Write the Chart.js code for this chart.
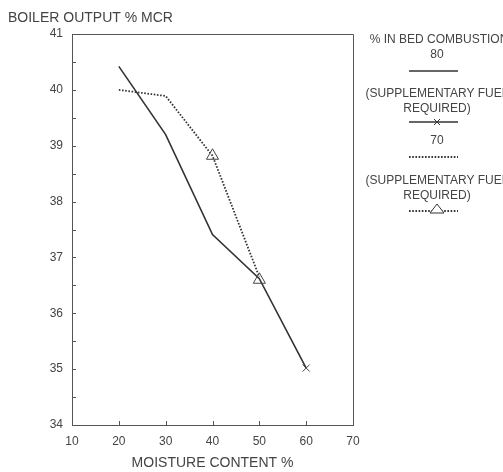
<!DOCTYPE html>
<html><head><meta charset="utf-8">
<script src="https://cdn.jsdelivr.net/npm/chart.js@4"></script>
<style>html,body{margin:0;padding:0;background:#fff}#wrap{width:503px;height:472px;position:relative}</style>
</head><body><div id="wrap"><canvas id="c" width="503" height="472"></canvas></div>
<script>
const moisture = [20, 30, 40, 50, 60];
const output80 = [40.42, 39.2, 37.41, 36.62, 35.02];
const output70 = [40.0, 39.89, 38.82, 36.65, null];
const suppFuel80X = [60];
const suppFuel80Y = [35.02];
const suppFuel70X = [40, 50];
const suppFuel70Y = [38.82, 36.6];
const xTicks = [10, 20, 30, 40, 50, 60, 70];
const yTicks = [34, 35, 36, 37, 38, 39, 40, 41];
const legendLines = ['% IN BED COMBUSTION', '80', '(SUPPLEMENTARY FUEL', 'REQUIRED)', '70', '(SUPPLEMENTARY FUEL', 'REQUIRED)'];
const yTitle = 'BOILER OUTPUT % MCR';
const xTitle = 'MOISTURE CONTENT %';

const INK = '#444';
const FONT = 'Liberation Sans, Arial, sans-serif';

const pts = (xs, ys) => xs.map((x, i) => ({x, y: ys[i]})).filter(p => p.y !== null);

const decor = {
  id: 'decor',
  afterDraw(chart) {
    const ctx = chart.ctx, a = chart.chartArea;
    const xs = chart.scales.x, ys = chart.scales.y;
    ctx.save();
    ctx.strokeStyle = '#555';
    ctx.lineWidth = 1;
    ctx.beginPath();
    ctx.moveTo(a.left, a.top + 0.5); ctx.lineTo(a.right + 0.5, a.top + 0.5); ctx.lineTo(a.right + 0.5, a.bottom);
    ctx.stroke();
    ctx.beginPath();
    for (let v = 34.5; v < 41; v += 0.5) {
      const y = Math.round(ys.getPixelForValue(v)) + 0.5;
      ctx.moveTo(a.left, y); ctx.lineTo(a.left + 4, y);
    }
    for (const v of xTicks.slice(1, -1)) {
      const x = Math.round(xs.getPixelForValue(v)) + 0.5;
      ctx.moveTo(x, a.bottom); ctx.lineTo(x, a.bottom - 4);
    }
    ctx.stroke();
    ctx.fillStyle = INK;
    ctx.font = '14px ' + FONT;
    ctx.textAlign = 'left'; ctx.textBaseline = 'middle';
    ctx.fillText(yTitle, 8, 18);
    ctx.font = '12px ' + FONT;
    ctx.textAlign = 'center';
    const cx = 437;
    const textY = [40, 55, 94, 109, 141, 181, 196];
    legendLines.forEach((t, i) => ctx.fillText(t, cx + (i === 0 ? 2 : 0), textY[i]));
    const x0 = 409, x1 = 458;
    ctx.strokeStyle = '#333';
    ctx.lineWidth = 1.6;
    ctx.setLineDash([]);
    ctx.beginPath(); ctx.moveTo(x0, 71); ctx.lineTo(x1, 71); ctx.stroke();
    ctx.beginPath(); ctx.moveTo(x0, 122); ctx.lineTo(x1, 122); ctx.stroke();
    ctx.lineWidth = 1;
    ctx.beginPath(); ctx.moveTo(cx - 3, 119); ctx.lineTo(cx + 3, 125); ctx.moveTo(cx + 3, 119); ctx.lineTo(cx - 3, 125); ctx.stroke();
    ctx.lineWidth = 1.8;
    ctx.setLineDash([1.6, 1.6]);
    ctx.beginPath(); ctx.moveTo(x0, 157); ctx.lineTo(x1, 157); ctx.stroke();
    ctx.beginPath(); ctx.moveTo(x0, 211); ctx.lineTo(x1, 211); ctx.stroke();
    ctx.setLineDash([]);
    ctx.lineWidth = 1;
    ctx.fillStyle = '#fff';
    ctx.beginPath(); ctx.moveTo(cx, 204); ctx.lineTo(cx + 7, 213); ctx.lineTo(cx - 7, 213); ctx.closePath(); ctx.fill(); ctx.stroke();
    ctx.restore();
  }
};

new Chart(document.getElementById('c'), {
  type: 'scatter',
  data: {
    datasets: [
      {label: '80', data: pts(moisture, output80), showLine: true, borderColor: '#333', borderWidth: 1.6, pointRadius: 0, tension: 0, order: 2},
      {label: '70', data: pts(moisture, output70), showLine: true, borderColor: '#333', borderWidth: 1.8, borderDash: [1.6, 1.6], pointRadius: 0, tension: 0, order: 3},
      {label: '80 supp', data: pts(suppFuel80X, suppFuel80Y), showLine: false, pointStyle: 'crossRot', pointRadius: 5, borderColor: '#444', borderWidth: 1, order: 1},
      {label: '70 supp', data: pts(suppFuel70X, suppFuel70Y), showLine: false, pointStyle: 'triangle', pointRadius: 7, borderColor: '#444', backgroundColor: 'rgba(255,255,255,0)', borderWidth: 1, order: 1}
    ]
  },
  options: {
    responsive: false,
    animation: false,
    events: [],
    layout: {padding: {left: 0, right: 150, top: 34, bottom: 0}},
    plugins: {legend: {display: false}, tooltip: {enabled: false}, title: {display: false}},
    scales: {
      x: {
        type: 'linear', min: 10, max: 70,
        afterBuildTicks: s => { s.ticks = xTicks.map(v => ({value: v})); },
        afterFit: s => { s.height = 47; },
        grid: {display: false, drawTicks: false, tickLength: 0},
        border: {display: true, color: '#555', width: 1},
        ticks: {color: INK, font: {family: FONT, size: 12}, padding: 9, maxRotation: 0},
        title: {display: true, text: xTitle, color: INK, font: {family: FONT, size: 14}, padding: {top: 4, bottom: 0}}
      },
      y: {
        type: 'linear', min: 34, max: 41,
        afterBuildTicks: s => { s.ticks = yTicks.map(v => ({value: v})); },
        afterFit: s => { s.width = 72; },
        grid: {display: false, drawTicks: false, tickLength: 0},
        border: {display: true, color: '#555', width: 1},
        ticks: {color: INK, font: {family: FONT, size: 12}, padding: 9}
      }
    }
  },
  plugins: [decor]
});
</script></body></html>
